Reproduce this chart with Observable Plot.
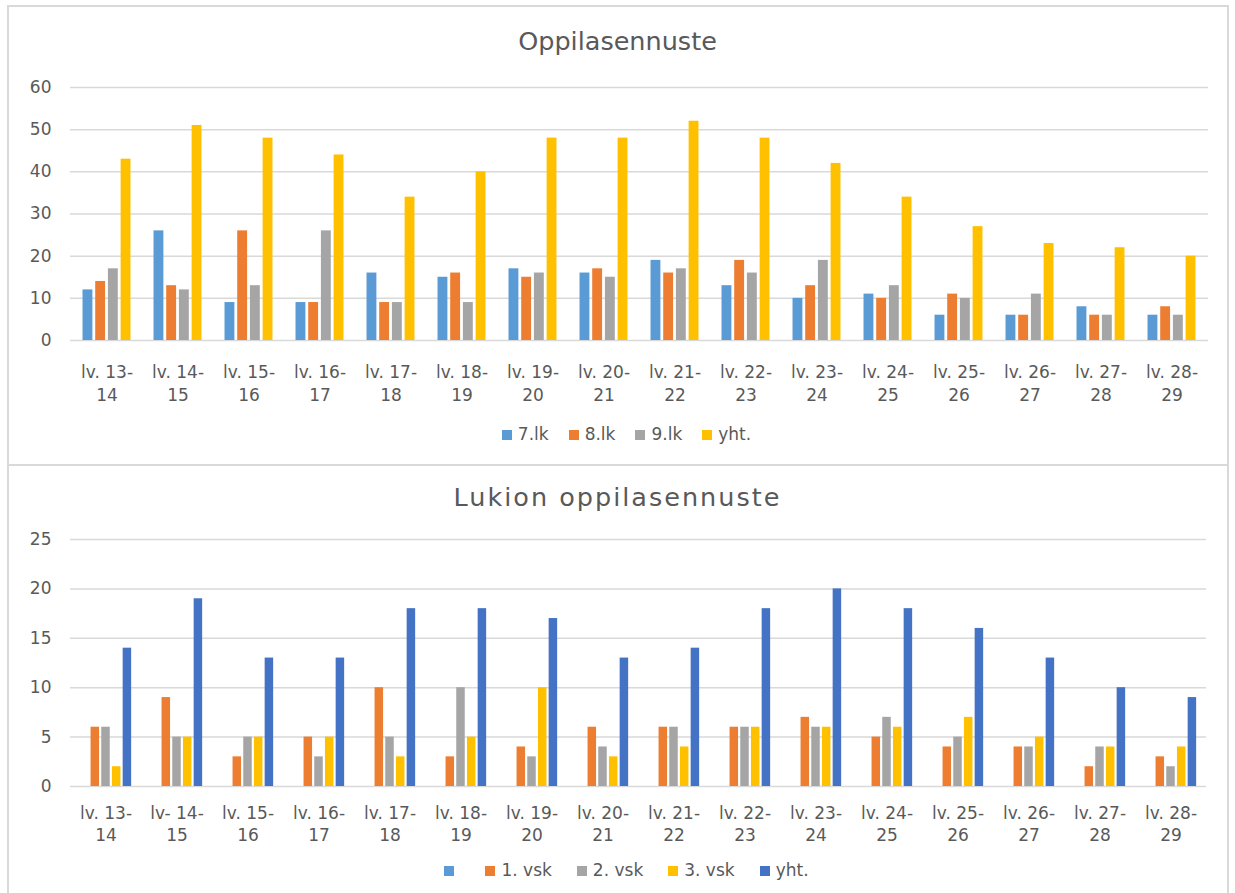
<!DOCTYPE html>
<html>
<head>
<meta charset="utf-8">
<script src="https://cdn.jsdelivr.net/npm/d3@7"></script>
<script src="https://cdn.jsdelivr.net/npm/@observablehq/plot@0.6"></script>
<style>
  html, body { margin: 0; padding: 0; background: #fff; }
  #wrap { position: relative; width: 1235px; height: 893px; overflow: hidden; font-family: "DejaVu Sans", sans-serif; color: #595959; }
  .panel { position: absolute; border: 2px solid #d9d9d9; box-sizing: border-box; }
  .title { position: absolute; left: 0; width: 1235px; text-align: center; line-height: 1; white-space: nowrap; }
  .legend { position: absolute; left: 0; width: 1235px; display: flex; justify-content: center; align-items: center; font-size: 17px; line-height: 1; }
  .legend .item { display: flex; align-items: center; }
  .legend .sw { width: 10px; height: 10px; margin-right: 6px; }
  .chart { position: absolute; left: 0; }
</style>
</head>
<body>
<div id="wrap">
  <div class="panel" style="left:7px; top:5px; width:1222px; height:461px;"></div>
  <div class="panel" style="left:7px; top:464px; width:1222px; height:440px;"></div>
  <div class="title" id="t1" style="top:29px; font-size:25.5px;"></div>
  <div class="chart" id="c1" style="top:0px;"></div>
  <div class="legend" id="l1" style="top:426px; padding-left:18px; box-sizing:border-box;"></div>
  <div class="title" id="t2" style="top:485px; font-size:25.5px; letter-spacing:2px;"></div>
  <div class="chart" id="c2" style="top:466px;"></div>
  <div class="legend" id="l2" style="top:862px; padding-left:18px; box-sizing:border-box;"></div>
</div>
<script>
// ---- Data: top chart "Oppilasennuste" ----
const titleTop = "Oppilasennuste";
const categoriesTop = ["lv. 13-14","lv. 14-15","lv. 15-16","lv. 16-17","lv. 17-18","lv. 18-19","lv. 19-20","lv. 20-21","lv. 21-22","lv. 22-23","lv. 23-24","lv. 24-25","lv. 25-26","lv. 26-27","lv. 27-28","lv. 28-29"];
const seriesTop = ["7.lk","8.lk","9.lk","yht."];
const values7lk = [12,26,9,9,16,15,17,16,19,13,10,11,6,6,8,6];
const values8lk = [14,13,26,9,9,16,15,17,16,19,13,10,11,6,6,8];
const values9lk = [17,12,13,26,9,9,16,15,17,16,19,13,10,11,6,6];
const valuesYhtTop = [43,51,48,44,34,40,48,48,52,48,42,34,27,23,22,20];
const yTicksTop = [0,10,20,30,40,50,60];

// ---- Data: bottom chart "Lukion oppilasennuste" ----
const titleBottom = "Lukion oppilasennuste";
const categoriesBottom = ["lv. 13-14","lv- 14-15","lv. 15-16","lv. 16-17","lv. 17-18","lv. 18-19","lv. 19-20","lv. 20-21","lv. 21-22","lv. 22-23","lv. 23-24","lv. 24-25","lv. 25-26","lv. 26-27","lv. 27-28","lv. 28-29"];
const seriesBottom = ["","1. vsk","2. vsk","3. vsk","yht."];
const valuesBlank = [];
const values1vsk = [6,9,3,5,10,3,4,6,6,6,7,5,4,4,2,3];
const values2vsk = [6,5,5,3,5,10,3,4,6,6,6,7,5,4,4,2];
const values3vsk = [2,5,5,5,3,5,10,3,4,6,6,6,7,5,4,4];
const valuesYhtBottom = [14,19,13,13,18,18,17,13,14,18,20,18,16,13,10,9];
const yTicksBottom = [0,5,10,15,20,25];

// ---- Styles ----
const colorsTop = ["#5B9BD5","#ED7D31","#A5A5A5","#FFC000"];
const colorsBottom = ["#5B9BD5","#ED7D31","#A5A5A5","#FFC000","#4472C4"];

function chart(o) {
  const W = 1235;
  const bw = (W - o.marginLeft - o.marginRight) / o.categories.length;
  const n = o.series.length;
  const marks = [Plot.ruleY(o.yTicks, {stroke: "#d9d9d9", strokeWidth: 1.5})];
  o.series.forEach((s, i) => {
    const vals = o.values[i];
    if (!vals.length) return;
    const rows = vals.map((v, j) => ({cat: o.categories[j], v}));
    marks.push(Plot.barY(rows, {
      x: "cat", y: "v", fill: o.colors[i],
      dx: (i - (n - 1) / 2) * o.pitch,
      insetLeft: (bw - o.barW) / 2, insetRight: (bw - o.barW) / 2
    }));
  });
  marks.push(Plot.axisY({ticks: o.yTicks, tickSize: 0, tickPadding: 19, fontSize: 17, label: null}));
  marks.push(Plot.axisX({tickSize: 0, tickPadding: o.xPad, fontSize: 17, lineHeight: o.lineHeight, label: null,
    tickFormat: d => d.replace(/-(\d+)$/, "-\n$1")}));
  return Plot.plot({
    width: W, height: o.height,
    marginLeft: o.marginLeft, marginRight: o.marginRight, marginTop: o.marginTop, marginBottom: o.marginBottom,
    x: {domain: o.categories, padding: 0},
    y: {domain: [0, o.yMax]},
    style: {fontFamily: "DejaVu Sans, sans-serif", color: "#595959", background: "transparent", overflow: "visible"},
    marks
  });
}

function legend(el, series, colors, gap) {
  series.forEach((s, i) => {
    const it = document.createElement("div"); it.className = "item";
    it.style.margin = `0 ${gap / 2}px`;
    const sw = document.createElement("div"); sw.className = "sw"; sw.style.background = colors[i];
    const tx = document.createElement("span"); tx.textContent = s;
    it.appendChild(sw); it.appendChild(tx); el.appendChild(it);
  });
}

document.getElementById("t1").textContent = titleTop;
document.getElementById("t2").textContent = titleBottom;

document.getElementById("c1").appendChild(chart({
  categories: categoriesTop, series: seriesTop,
  values: [values7lk, values8lk, values9lk, valuesYhtTop],
  colors: colorsTop, yTicks: yTicksTop, yMax: 60,
  height: 410, marginTop: 87, marginBottom: 70, marginLeft: 70, marginRight: 27,
  barW: 10, pitch: 12.7, xPad: 21, lineHeight: 1.35
}));
document.getElementById("c2").appendChild(chart({
  categories: categoriesBottom, series: seriesBottom,
  values: [valuesBlank, values1vsk, values2vsk, values3vsk, valuesYhtBottom],
  colors: colorsBottom, yTicks: yTicksBottom, yMax: 25,
  height: 400, marginTop: 73, marginBottom: 80, marginLeft: 70, marginRight: 29,
  barW: 8.5, pitch: 10.7, xPad: 18, lineHeight: 1.24
}));

legend(document.getElementById("l1"), seriesTop, colorsTop, 20);
legend(document.getElementById("l2"), seriesBottom, colorsBottom, 25);
</script>
</body>
</html>
